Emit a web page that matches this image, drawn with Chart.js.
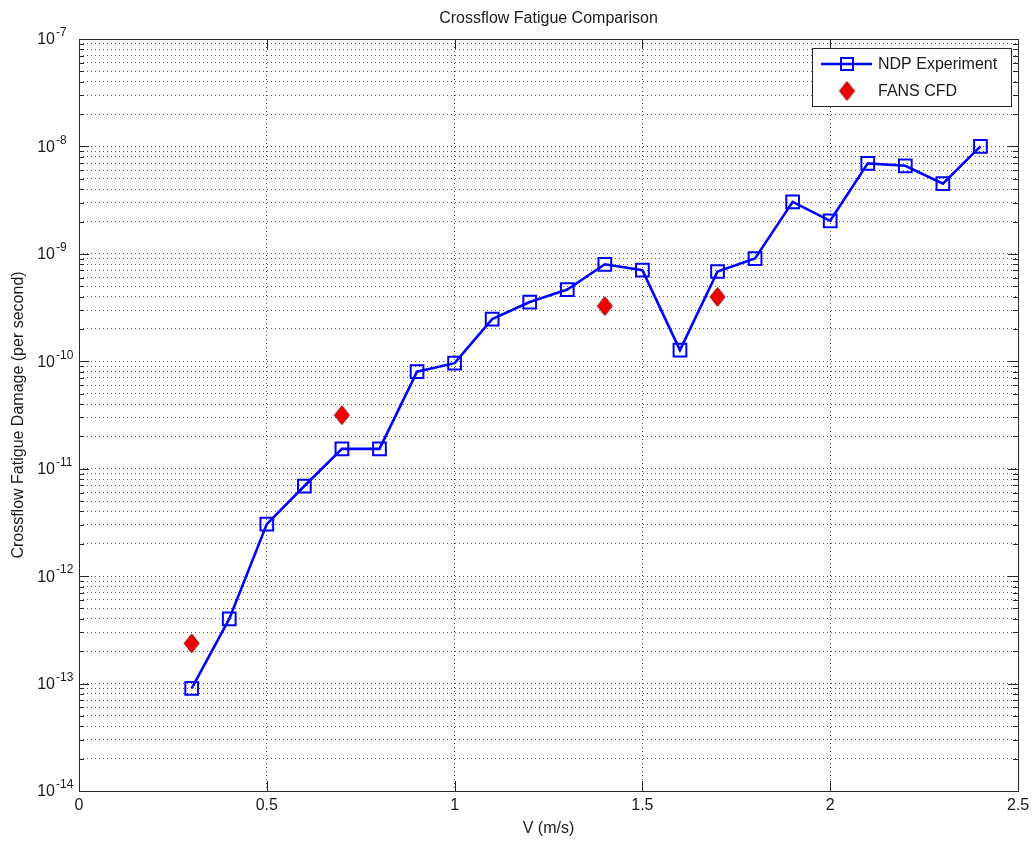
<!DOCTYPE html>
<html>
<head>
<meta charset="utf-8">
<script src="https://cdn.jsdelivr.net/npm/chart.js@4/dist/chart.umd.min.js"></script>
<style>
  html, body { margin: 0; padding: 0; background: #fff; }
  #wrap { width: 1036px; height: 846px; }
</style>
</head>
<body>
<div id="wrap"><canvas id="c" width="1036" height="846"></canvas></div>
<script>
// Flow velocity (m/s) of the experimental runs
const velocity = [0.3, 0.4, 0.5, 0.6, 0.7, 0.8, 0.9, 1.0, 1.1, 1.2, 1.3,
                  1.4, 1.5, 1.6, 1.7, 1.8, 1.9, 2.0, 2.1, 2.2, 2.3, 2.4];
// Measured crossflow fatigue damage rate (per second)
const ndpDamage = [9.0e-14, 4.0e-13, 3.05e-12, 6.9e-12, 1.53e-11, 1.53e-11,
                   8.0e-11, 9.6e-11, 2.47e-10, 3.56e-10, 4.65e-10, 8.0e-10,
                   7.05e-10, 1.27e-10, 6.85e-10, 9.05e-10, 3.05e-9, 2.03e-9,
                   6.95e-9, 6.6e-9, 4.5e-9, 1.0e-8];
// CFD predictions
const cfdVelocity = [0.3, 0.7, 1.4, 1.7];
const cfdDamage = [2.37e-13, 3.15e-11, 3.27e-10, 3.98e-10];

// Axis limits and tick labels
const xTickLabels = ['0', '0.5', '1', '1.5', '2', '2.5'];
const yDecades = [-14, -13, -12, -11, -10, -9, -8, -7];
const yMinorMultipliers = [2, 3, 4, 5, 6, 7, 8, 9];

const FONT = '"Liberation Sans", Arial, Helvetica, sans-serif';
const TEXT = '#1a1a1a';
const AXIS = '#262626';
const GRID = 'rgba(0,0,0,0.65)';
const BLUE = '#0000ff';
const RED = '#f20000';

// Diamond marker (taller than wide)
function makeDiamond(w, h) {
  const cv = document.createElement('canvas');
  cv.width = w + 2; cv.height = h + 2;
  const g = cv.getContext('2d');
  const cx = cv.width / 2, cy = cv.height / 2;
  g.beginPath();
  g.moveTo(cx, cy - h / 2);
  g.lineTo(cx + w / 2, cy);
  g.lineTo(cx, cy + h / 2);
  g.lineTo(cx - w / 2, cy);
  g.closePath();
  g.fillStyle = RED;
  g.fill();
  g.strokeStyle = '#8a0a14';
  g.lineWidth = 1;
  g.stroke();
  return cv;
}
const diamond = makeDiamond(15, 19);

// Tick marks, axes box, y tick labels and legend
const axesDecor = {
  id: 'axesDecor',
  afterDatasetsDraw(chart) {
    const { ctx, chartArea: a, scales: { x, y } } = chart;
    ctx.save();
    ctx.strokeStyle = AXIS;
    ctx.lineWidth = 1;
    ctx.beginPath();
    y.ticks.forEach(t => {
      const py = Math.round(y.getPixelForValue(t.value)) + 0.5;
      const len = t.major ? 10 : 5;
      ctx.moveTo(a.left, py); ctx.lineTo(a.left + len, py);
      ctx.moveTo(a.right, py); ctx.lineTo(a.right - len, py);
    });
    x.ticks.forEach(t => {
      const px = Math.round(x.getPixelForValue(t.value)) + 0.5;
      ctx.moveTo(px, a.bottom); ctx.lineTo(px, a.bottom - 10);
      ctx.moveTo(px, a.top); ctx.lineTo(px, a.top + 10);
    });
    ctx.stroke();
    ctx.strokeRect(Math.round(a.left) + 0.5, Math.round(a.top) + 0.5,
                   Math.round(a.right - a.left), Math.round(a.bottom - a.top));
    ctx.restore();
  },
  afterDraw(chart) {
    const { ctx, chartArea: a, scales: { y } } = chart;
    ctx.save();
    // y tick labels as powers of ten
    ctx.fillStyle = TEXT;
    yDecades.forEach(e => {
      const py = y.getPixelForValue(Math.pow(10, e));
      ctx.font = '16px ' + FONT;
      ctx.textAlign = 'right';
      ctx.textBaseline = 'middle';
      ctx.fillText('10', a.left - 24, py + 1);
      ctx.font = '12px ' + FONT;
      ctx.textAlign = 'left';
      ctx.fillText(String(e), a.left - 23, py - 6);
    });

    // legend
    const ds = chart.data.datasets;
    const bx = Math.round(a.right) - 206, by = Math.round(a.top) + 9;
    const bw = 199, bh = 58;
    ctx.fillStyle = '#fff';
    ctx.fillRect(bx, by, bw, bh);
    ctx.strokeStyle = AXIS;
    ctx.lineWidth = 1;
    ctx.strokeRect(bx + 0.5, by + 0.5, bw, bh);

    const row1 = by + 16, row2 = by + 43, mx = bx + 35;
    ctx.strokeStyle = ds[0].borderColor;
    ctx.lineWidth = ds[0].borderWidth;
    ctx.beginPath();
    ctx.moveTo(bx + 9, row1); ctx.lineTo(bx + 60, row1);
    ctx.stroke();
    ctx.lineWidth = ds[0].pointBorderWidth;
    ctx.fillStyle = '#fff';
    ctx.fillRect(mx - 6, row1 - 6, 12, 12);
    ctx.strokeRect(mx - 6, row1 - 6, 12, 12);
    ctx.beginPath();
    ctx.moveTo(mx - 6, row1); ctx.lineTo(mx + 6, row1);
    ctx.lineWidth = ds[0].borderWidth;
    ctx.stroke();
    ctx.drawImage(diamond, mx - diamond.width / 2, row2 - diamond.height / 2);

    ctx.fillStyle = TEXT;
    ctx.font = '16px ' + FONT;
    ctx.textAlign = 'left';
    ctx.textBaseline = 'middle';
    ctx.fillText(ds[0].label, bx + 66, row1 + 1);
    ctx.fillText(ds[1].label, bx + 66, row2 + 1);
    ctx.restore();
  }
};

new Chart(document.getElementById('c'), {
  type: 'line',
  data: {
    datasets: [
      {
        label: 'NDP Experiment',
        data: velocity.map((v, i) => ({ x: v, y: ndpDamage[i] })),
        borderColor: BLUE,
        borderWidth: 2.6,
        backgroundColor: 'transparent',
        pointStyle: 'rect',
        pointRadius: 9,
        pointBorderWidth: 2,
        pointBorderColor: BLUE,
        pointBackgroundColor: 'transparent',
        tension: 0
      },
      {
        label: 'FANS CFD',
        data: cfdVelocity.map((v, i) => ({ x: v, y: cfdDamage[i] })),
        showLine: false,
        pointStyle: diamond,
        pointRadius: 9,
        borderColor: RED,
        backgroundColor: RED
      }
    ]
  },
  options: {
    responsive: false,
    animation: false,
    events: [],
    layout: { padding: { left: 0, right: 18, top: 0, bottom: 0 }, autoPadding: false },
    plugins: {
      legend: { display: false },
      tooltip: { enabled: false },
      title: {
        display: true,
        fullSize: false,
        text: 'Crossflow Fatigue Comparison',
        color: TEXT,
        font: { family: FONT, size: 16, weight: 'normal', lineHeight: 1.2 },
        padding: { top: 9, bottom: 10.8 }
      }
    },
    scales: {
      x: {
        type: 'linear',
        position: 'bottom',
        min: 0,
        max: 2.5,
        ticks: {
          stepSize: 0.5,
          color: TEXT,
          padding: 5,
          font: { family: FONT, size: 16 },
          callback: (v, i) => xTickLabels[i]
        },
        grid: {
          drawTicks: false,
          color: ctx => (ctx.tick && (ctx.tick.value === 0 || ctx.tick.value === 2.5)) ? 'transparent' : GRID,
          lineWidth: 1
        },
        border: { display: false, dash: [1, 3] },
        title: {
          display: true,
          text: 'V (m/s)',
          color: TEXT,
          font: { family: FONT, size: 16, lineHeight: 1.2 },
          padding: { top: 0, bottom: 7.4 }
        },
        afterFit: s => { s.height = 55; }
      },
      y: {
        type: 'logarithmic',
        position: 'left',
        min: 1e-14,
        max: 1e-7,
        afterBuildTicks: s => {
          const ticks = [];
          yDecades.forEach(e => {
            ticks.push({ value: Number('1e' + e), major: true });
            if (e < yDecades[yDecades.length - 1]) {
              yMinorMultipliers.forEach(m => ticks.push({ value: Number(m + 'e' + e), major: false }));
            }
          });
          s.ticks = ticks;
        },
        ticks: { display: false },
        grid: {
          drawTicks: false,
          color: ctx => (ctx.tick && (ctx.tick.value === 1e-14 || ctx.tick.value === 1e-7)) ? 'transparent' : GRID,
          lineWidth: 1
        },
        border: { display: false, dash: [1, 3] },
        title: {
          display: true,
          text: 'Crossflow Fatigue Damage (per second)',
          color: TEXT,
          font: { family: FONT, size: 16, lineHeight: 1.2 },
          padding: { top: 8.5, bottom: 0 }
        },
        afterFit: s => { s.width = 79; }
      }
    }
  },
  plugins: [axesDecor]
});
</script>
</body>
</html>
